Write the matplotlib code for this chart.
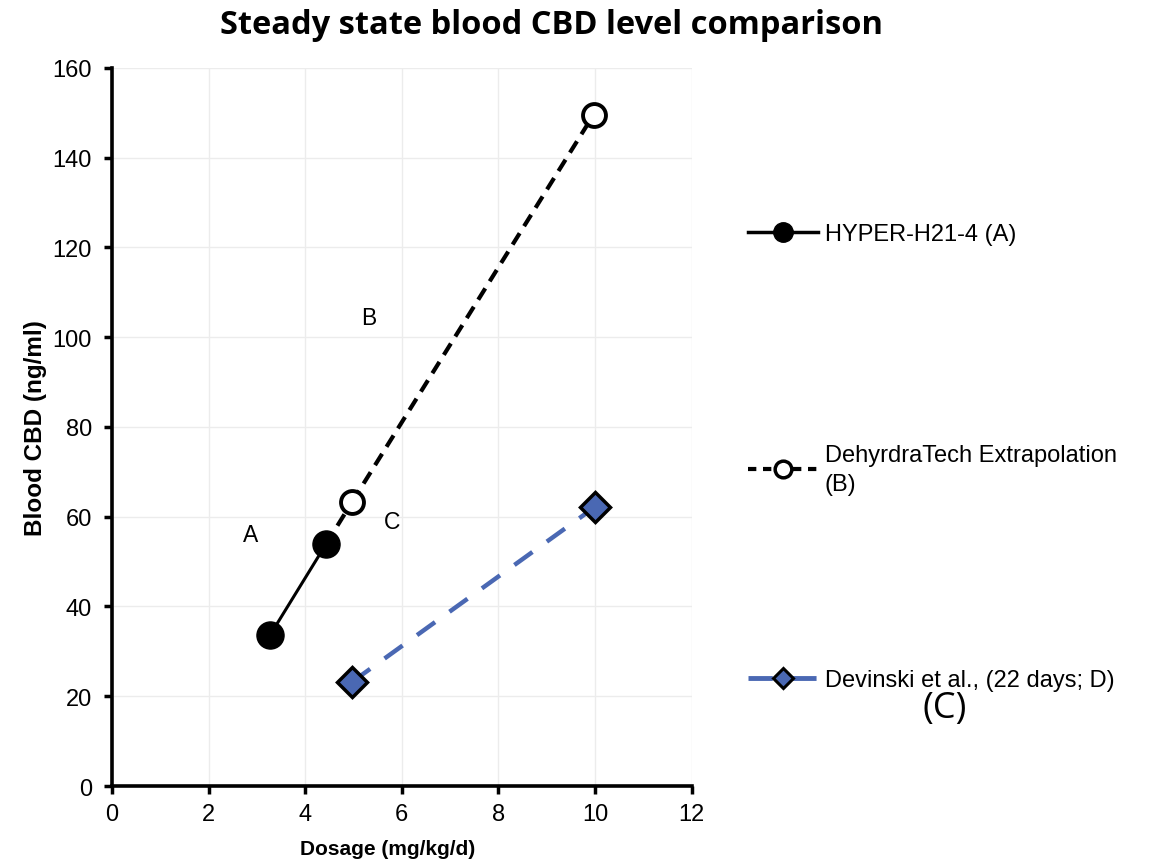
import matplotlib.pyplot as plt
from matplotlib.lines import Line2D

# values
hyper_dose = [3.27, 4.43]
hyper_cbd = [33.6, 53.9]
dehydra_dose = [4.43, 4.97, 9.97]
dehydra_cbd = [53.9, 63.3, 149.6]
devinski_dose = [4.97, 10.0]
devinski_cbd = [23.2, 62.2]

x_ticks = [0, 2, 4, 6, 8, 10, 12]
y_ticks = [0, 20, 40, 60, 80, 100, 120, 140, 160]

labels = ['HYPER-H21-4 (A)', 'DehyrdraTech Extrapolation\n(B)', 'Devinski et al., (22 days; D)']
notes = [('A', 2.86, 56.0), ('B', 5.32, 104.5), ('C', 5.79, 59.0)]

plt.rcParams['font.family'] = ['Liberation Sans', 'DejaVu Sans']

fig = plt.figure(figsize=(11.49, 8.62), dpi=100)
ax = fig.add_axes([0.0975, 0.087, 0.5045, 0.833])

blue = '#4a68b3'

ax.plot(dehydra_dose[:2], dehydra_cbd[:2], color='black', lw=3, ls=(0, (3.2, 2)), zorder=2)
ax.plot(dehydra_dose[1:], dehydra_cbd[1:], color='black', lw=3, ls=(0, (3.2, 2)),
        marker='o', ms=16.5, mfc='white', mec='black', mew=2.8, zorder=3)
ax.plot(hyper_dose, hyper_cbd, color='black', lw=2.2, marker='o', ms=19.5,
        mfc='black', mec='black', zorder=4)
ax.plot(devinski_dose, devinski_cbd, color=blue, lw=3.2, ls=(0, (5, 4)),
        marker='D', ms=15, mfc=blue, mec='black', mew=2.5, zorder=3)

for txt, xx, yy in notes:
    ax.text(xx, yy, txt, fontsize=16.5, ha='center', va='center')

ax.set_xlim(0, 12)
ax.set_ylim(0, 160)
ax.set_xticks(x_ticks)
ax.set_yticks(y_ticks)
ax.tick_params(labelsize=17, width=2.5, length=5.5, direction='out')
ax.tick_params(axis='y', pad=9)
ax.tick_params(axis='x', pad=7)
ax.grid(True, color='#ececec', lw=1)
ax.set_axisbelow(True)
for s in ['top', 'right']:
    ax.spines[s].set_visible(False)
for s in ['left', 'bottom']:
    ax.spines[s].set_linewidth(2.6)

ax.set_xlabel('Dosage (mg/kg/d)', fontsize=15, fontweight='bold', labelpad=10)
ax.xaxis.label.set_x(0.476)
ax.set_ylabel('Blood CBD (ng/ml)', fontsize=17.5, fontweight='bold', labelpad=4)

fig.suptitle('Steady state blood CBD level comparison', x=0.48, y=0.99,
             fontsize=23.5, fontweight='bold', family=['Open Sans', 'DejaVu Sans'])

handles = [
    Line2D([], [], color='black', lw=2.5, marker='o', ms=14, mfc='black', mec='black'),
    Line2D([], [], color='black', lw=3, ls=(0, (2, 1.6)), marker='o', ms=12,
           mfc='white', mec='black', mew=2.5),
    Line2D([], [], color=blue, lw=3.5, ls=(0, (5, 4)), marker='D', ms=10,
           mfc=blue, mec='black', mew=2.2),
]
ys = [0.740, 0.484, 0.223]
for h, lab, yy in zip(handles, labels, ys):
    lg = fig.legend([h], [lab], loc='upper left', bbox_to_anchor=(0.651, yy),
                    frameon=False, fontsize=17, handlelength=2.95, handletextpad=0.3,
                    borderpad=0, borderaxespad=0)
    for t in lg.get_texts():
        t.set_linespacing(1.4)

fig.text(0.822, 0.178, '(C)', fontsize=26, ha='center', va='center',
         family=['Open Sans', 'DejaVu Sans'])

fig.savefig('out.png', dpi=100)
